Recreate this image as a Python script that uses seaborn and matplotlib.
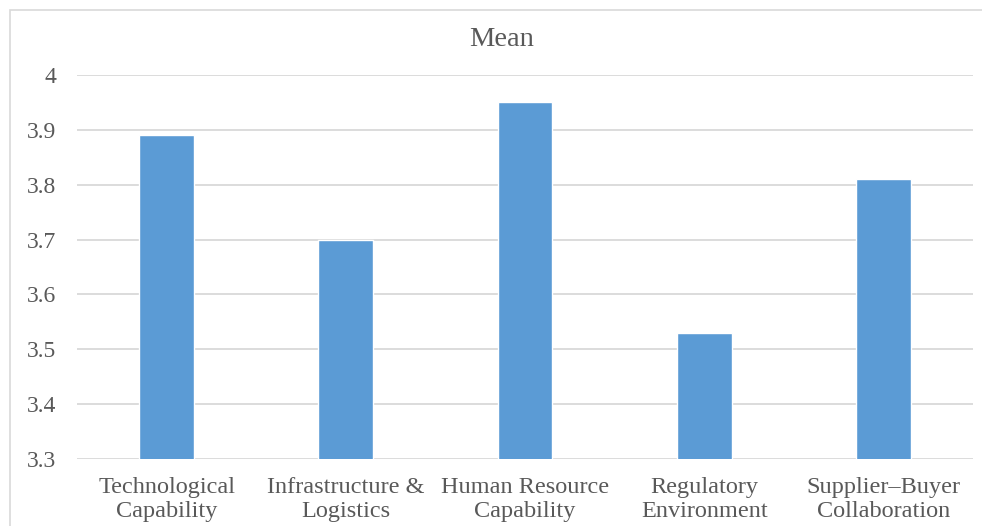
import matplotlib
matplotlib.use("Agg")
import matplotlib.pyplot as plt
import seaborn as sns
import pandas as pd
from matplotlib.patches import Rectangle

categories = [
    "Technological\nCapability",
    "Infrastructure &\nLogistics",
    "Human Resource\nCapability",
    "Regulatory\nEnvironment",
    "Supplier\u2013Buyer\nCollaboration",
]
means = [3.89, 3.70, 3.95, 3.53, 3.81]
y_ticks = [3.3, 3.4, 3.5, 3.6, 3.7, 3.8, 3.9, 4.0]
y_tick_labels = ["3.3", "3.4", "3.5", "3.6", "3.7", "3.8", "3.9", "4"]

sns.set_theme(style="white")
plt.rcParams["font.family"] = ["Liberation Serif", "DejaVu Serif"]

W, H = 982, 526
fig = plt.figure(figsize=(W / 100, H / 100), dpi=100)
ax = fig.add_axes([77 / W, 1 - 459 / H, (973 - 77) / W, (459 - 75) / H])

df = pd.DataFrame({"category": categories, "mean": means})
sns.barplot(data=df, x="category", y="mean", color="#5B9BD5", saturation=1,
            width=0.306, ax=ax, zorder=3)

ax.set_ylim(3.3, 4.0)
ax.set_xlim(-0.5, len(categories) - 0.5)
ax.set_yticks(y_ticks)
ax.set_yticklabels(y_tick_labels)
ax.yaxis.grid(True, color="#D9D9D9", linewidth=1.3, zorder=0)
ax.set_axisbelow(True)
for s in ax.spines.values():
    s.set_visible(False)
ax.set_xlabel("")
ax.set_ylabel("")
ax.tick_params(axis="y", length=0, pad=15, labelsize=17, labelcolor="#595959")
ax.tick_params(axis="x", length=0, pad=13, labelsize=17.5, labelcolor="#595959")
for lbl in ax.get_xticklabels():
    lbl.set_linespacing(1.18)
for lbl in ax.get_yticklabels():
    lbl.set_horizontalalignment("right")

fig.text(502 / W, 1 - 39 / H, "Mean", ha="center", va="center",
         fontsize=20.5, color="#595959")

# chart frame
fig.patches.append(Rectangle((9.5 / W, -0.01), 1.02, 1 - 9.5 / H + 0.01,
                             transform=fig.transFigure, fill=False,
                             edgecolor="#D9D9D9", linewidth=1.2))

fig.savefig("out.png", dpi=100, facecolor="white")
